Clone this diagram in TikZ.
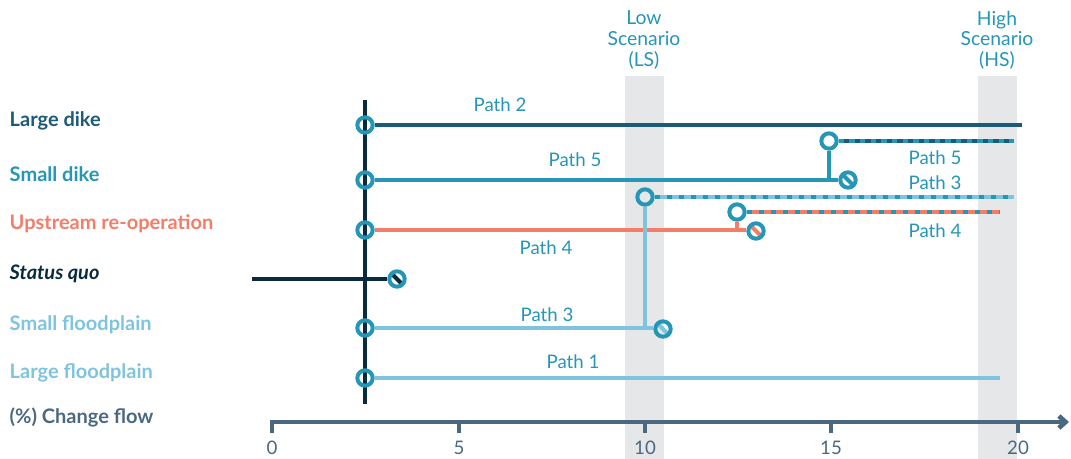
\documentclass[tikz,border=0pt]{standalone}
\usepackage{fontspec}
\setmainfont{Lato}
\usetikzlibrary{arrows.meta}
\definecolor{darkblue}{RGB}{27,90,122}
\definecolor{tealc}{RGB}{37,150,181}
\definecolor{coral}{RGB}{244,125,106}
\definecolor{navy}{RGB}{10,42,62}
\definecolor{lightblue}{RGB}{126,196,222}
\definecolor{slate}{RGB}{74,104,128}
\definecolor{bandgray}{RGB}{230,231,233}
\begin{document}
\begin{tikzpicture}[x=0.75pt, y=-0.75pt,
    ring/.style={circle, draw=tealc, line width=3pt, minimum size=11.5pt, inner sep=0pt},
    stopring/.style={ring, path picture={\draw[line width=3pt, #1]
        (path picture bounding box.north west) -- (path picture bounding box.south east);}},
    route/.style={line width=3.2pt},
    rowlabel/.style={anchor=west, font=\bfseries\fontsize{15}{18}\selectfont},
    pathlabel/.style={text=tealc, font=\fontsize{14}{16}\selectfont},
    ticklabel/.style={text=slate, font=\fontsize{14}{16}\selectfont}]
    \useasboundingbox (0,0) rectangle (1071,459);

    % 1. Dải xám của hai kịch bản
    \fill[bandgray] (625,76) rectangle (664,459);
    \fill[bandgray] (978,76) rectangle (1017,459);
    \node[pathlabel, align=center, font=\fontsize{14.5}{15.5}\selectfont] (ls) at (644,40) {Low\\Scenario\\(LS)};
    \node[pathlabel, align=center, font=\fontsize{14.5}{15.5}\selectfont] (hs) at (997,40) {High\\Scenario\\(HS)};

    % 2. Nhãn các hàng
    \node[rowlabel, text=darkblue] (ldl) at (5,121) {Large dike};
    \node[rowlabel, text=tealc] (sdl) at (5,174) {Small dike};
    \node[rowlabel, text=coral] (upl) at (5,224) {Upstream re-operation};
    \node[rowlabel, text=navy, font=\bfseries\itshape\fontsize{15}{18}\selectfont] (sql) at (5,274) {Status quo};
    \node[rowlabel, text=lightblue] (sfl) at (5,325) {Small floodplain};
    \node[rowlabel, text=lightblue] (lfl) at (5,373) {Large floodplain};
    \node[rowlabel, text=slate] (cfl) at (5,417) {(\%) Change flow};

    % 3. Trục hoành
    \coordinate (ax0) at (270,422);
    \coordinate (ax1) at (1069,422);
    \draw[slate, line width=3.5pt, -{Straight Barb[length=5pt, width=9pt]}] (ax0) -- (ax1);
    \foreach \px/\lab in {272/0, 459/5, 645/10, 831/15, 1018/20} {
        \draw[slate, line width=2.5pt] (\px,422) -- (\px,433);
        \node[ticklabel] (t\lab) at (\px,448) {\lab};
    }

    % 4. Trục đứng hiện trạng
    \coordinate (vtop) at (365,100);
    \coordinate (vbot) at (365,404);
    \draw[navy, line width=3pt] (vtop) -- (vbot);

    % 5. Các nút vòng tròn
    \node[ring] (ld0) at (365,125) {};
    \node[ring] (sd0) at (365,180) {};
    \node[ring] (up0) at (365,230) {};
    \node[ring] (sf0) at (365,328) {};
    \node[ring] (lf0) at (365,378) {};
    \node[ring] (sdup) at (829,141) {};
    \node[ring] (sfup) at (645,197) {};
    \node[ring] (upup) at (737,212) {};
    \node[stopring=tealc] (sdend) at (848,180) {};
    \node[stopring=coral] (upend) at (756,231) {};
    \node[stopring=navy] (sqend) at (397,279) {};
    \node[stopring=lightblue] (sfend) at (663,329) {};
    \coordinate (ldend) at (1022,125);
    \coordinate (lfend) at (1000,378);
    \coordinate (sq0) at (252,279);
    \coordinate (sdtop) at (1014,141);
    \coordinate (sftop) at (1014,197);
    \coordinate (uptop) at (1000,212);

    % 6. Các lộ trình
    \draw[route, darkblue] (ld0) -- (ldend);
    \draw[route, tealc] (sd0) -- (sd0 -| sdend.west);
    \draw[route, tealc] (sdup) -- (sdup |- sd0);
    \draw[route, coral] (up0) -- (up0 -| upend.west);
    \draw[route, coral] (upup) -- (upup |- up0);
    \draw[route, navy] (sq0) -- (sqend);
    \draw[route, lightblue] (sf0) -- (sf0 -| sfend.west);
    \draw[route, lightblue] (sfup) -- (sfup |- sf0);
    \draw[route, lightblue] (lf0) -- (lfend);

    % 7. Các đoạn nét đứt sau điểm chuyển
    \draw[route, darkblue] (sdup) -- (sdtop);
    \draw[route, tealc, dash pattern=on 4pt off 4pt] (sdup) -- (sdtop);
    \draw[route, lightblue] (sfup) -- (sftop);
    \draw[route, tealc, dash pattern=on 4pt off 5pt] (sfup) -- (sftop);
    \draw[route, coral] (upup) -- (uptop);
    \draw[route, tealc, dash pattern=on 4pt off 5pt] (upup) -- (uptop);

    % 8. Nhãn lộ trình
    \node[pathlabel] (p2) at (500,105) {Path 2};
    \node[pathlabel] (p5a) at (575,160) {Path 5};
    \node[pathlabel] (p5b) at (935,158) {Path 5};
    \node[pathlabel] (p3b) at (935,183) {Path 3};
    \node[pathlabel] (p4a) at (546,248) {Path 4};
    \node[pathlabel] (p4b) at (935,231) {Path 4};
    \node[pathlabel] (p3a) at (547,315) {Path 3};
    \node[pathlabel] (p1) at (573,362) {Path 1};
\end{tikzpicture}
\end{document}
